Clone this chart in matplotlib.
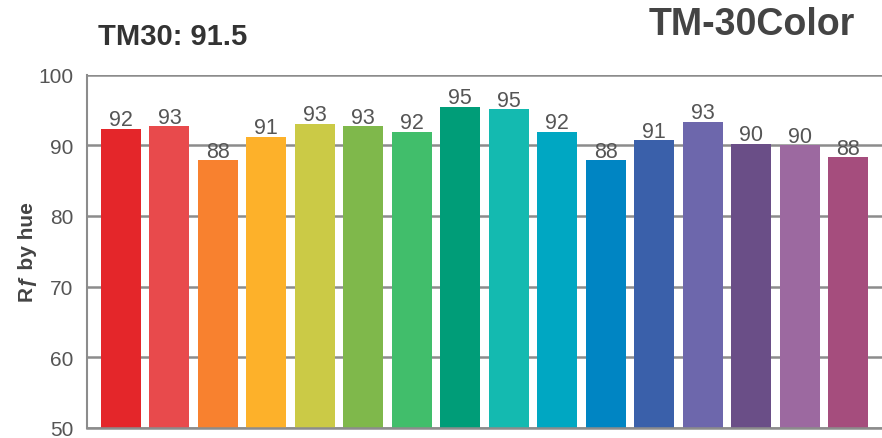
import matplotlib
matplotlib.use('Agg')
import matplotlib.pyplot as plt

# Rf by hue bin (16 bins)
bin_values = [92.3, 92.7, 87.9, 91.2, 93.0, 92.7, 91.9, 95.4,
              95.1, 91.9, 87.9, 90.7, 93.3, 90.2, 90.0, 88.3]
bin_labels = ['92', '93', '88', '91', '93', '93', '92', '95',
              '95', '92', '88', '91', '93', '90', '90', '88']
bin_colors = ['#E4262A', '#E84A4C', '#F8812F', '#FDB12A',
              '#CBCA46', '#7FB84B', '#41BE6B', '#009D78',
              '#14BAB0', '#00A7C2', '#0085C3', '#3A60AA',
              '#6D67AC', '#6A4E87', '#9C69A0', '#A54D7D']
y_ticks = [50, 60, 70, 80, 90, 100]
score_text = 'TM30: 91.5'
brand_text = 'TM-30Color'

plt.rcParams['font.family'] = ['Liberation Sans', 'DejaVu Sans']

fig = plt.figure(figsize=(8.82, 4.39), dpi=100)
ax = fig.add_axes([0.0986, 0.0228, 0.9014, 0.805])

x = list(range(len(bin_values)))
ax.bar(x, bin_values, width=0.824, color=bin_colors, zorder=2)

for xi, v, lab in zip(x, bin_values, bin_labels):
    ax.annotate(lab, (xi, v), xytext=(0, -1), textcoords='offset points',
                ha='center', va='bottom', fontsize=15.5, color='#555555')

ax.set_xlim(-0.7, len(bin_values) - 0.3)
ax.set_ylim(50, 100)
ax.set_yticks(y_ticks)
ax.set_xticks([])
ax.tick_params(axis='y', length=0, labelsize=15, labelcolor='#555555', pad=10)

ax.set_axisbelow(True)
ax.yaxis.grid(True, color='#8c8c8c', linewidth=1.8)
for s in ['top', 'right']:
    ax.spines[s].set_visible(False)
ax.spines['left'].set_color('#8c8c8c')
ax.spines['left'].set_linewidth(1.5)
ax.spines['bottom'].set_color('#8c8c8c')
ax.spines['bottom'].set_linewidth(1.8)

ax.set_ylabel('R\u0192 by hue', fontsize=15, fontweight='bold', color='#444444',
              labelpad=1)

fig.text(0.111, 0.915, score_text, fontsize=21, fontweight='bold',
         color='#333333', ha='left', va='center')
fig.text(0.969, 0.943, brand_text, fontsize=27, fontweight='bold',
         color='#444444', ha='right', va='center')

fig.savefig('out.png', dpi=100)
